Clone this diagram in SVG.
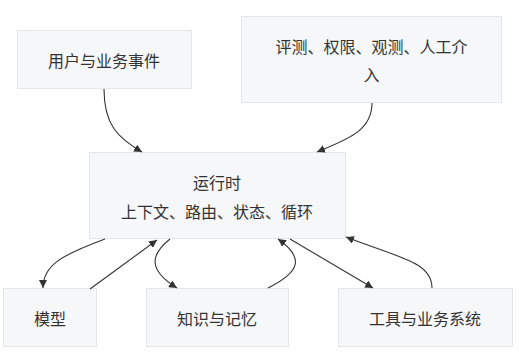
<svg xmlns="http://www.w3.org/2000/svg" width="519" height="357" viewBox="0 0 519 357">
<style>
.box{fill:#f6f7f9;stroke:#e4e6ea;stroke-width:1}
.t{font-family:"Noto Sans CJK SC","Noto Sans",sans-serif;font-size:16px;fill:#333;text-anchor:middle;dominant-baseline:central}
.c{fill:none;stroke:#333;stroke-width:1.1}
</style>
<defs>
<marker id="ah" viewBox="0 0 10 10" refX="10" refY="5" markerWidth="8" markerHeight="8" markerUnits="userSpaceOnUse" orient="auto">
<path d="M0,0 L10,5 L0,10 z" fill="#333"/>
</marker>
</defs>
<rect width="519" height="357" fill="#fff"/>
<g id="n-user"><rect class="box" x="17.5" y="30.5" width="174" height="58"/><text class="t" x="104" y="60">用户与业务事件</text></g>
<g id="n-eval"><rect class="box" x="241.5" y="16.5" width="260" height="86"/><text class="t" x="371.5" y="46">评测、权限、观测、人工介</text><text class="t" x="371.5" y="74">入</text></g>
<g id="n-runtime"><rect class="box" x="89.5" y="152.5" width="256" height="86"/><text class="t" x="217" y="182">运行时</text><text class="t" x="217" y="211">上下文、路由、状态、循环</text></g>
<g id="n-model"><rect class="box" x="3.5" y="288.5" width="93" height="58"/><text class="t" x="50" y="318">模型</text></g>
<g id="n-know"><rect class="box" x="146.5" y="288.5" width="142" height="58"/><text class="t" x="217" y="318">知识与记忆</text></g>
<g id="n-tools"><rect class="box" x="338.5" y="288.5" width="174" height="58"/><text class="t" x="425" y="318">工具与业务系统</text></g>
<g id="connectors">
<path class="c" marker-end="url(#ah)" d="M104,89 C104,125 118,138 142,152"/>
<path class="c" marker-end="url(#ah)" d="M372,103 C372,132 345,140 317,152"/>
<path class="c" marker-end="url(#ah)" d="M105,239 C62,255 43,265 43,288"/>
<path class="c" marker-end="url(#ah)" d="M90,289 L157,240"/>
<path class="c" marker-end="url(#ah)" d="M170,239 C150,255 148,270 177,288"/>
<path class="c" marker-end="url(#ah)" d="M268,288 C300,272 305,258 278,239"/>
<path class="c" marker-end="url(#ah)" d="M290,239 L373,288"/>
<path class="c" marker-end="url(#ah)" d="M432,288 C432,262 400,258 346,237"/>
</g>
</svg>
